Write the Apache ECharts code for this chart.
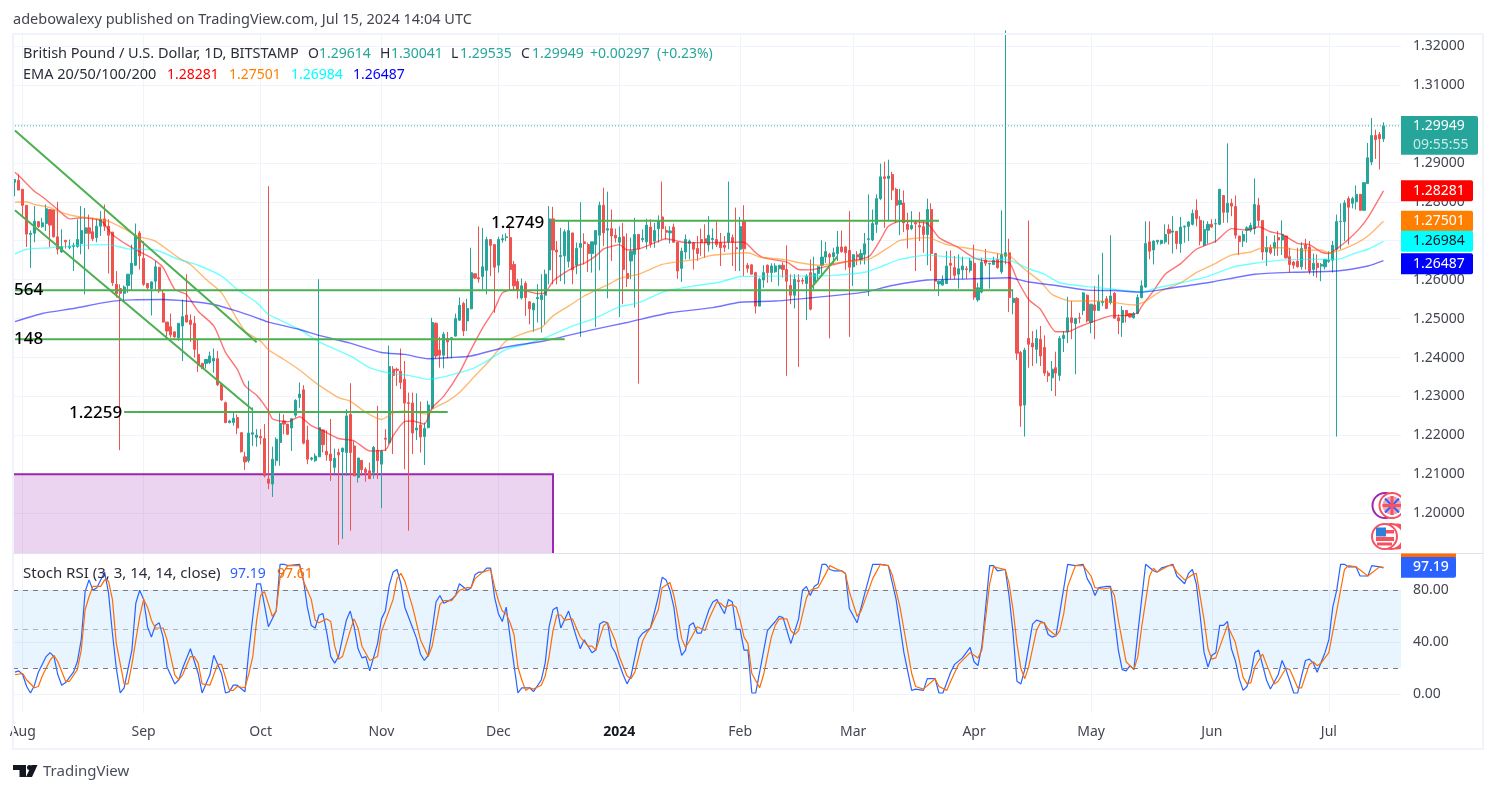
<!DOCTYPE html>
<html><head><meta charset="utf-8">
<script src="https://cdn.jsdelivr.net/npm/echarts@6/dist/echarts.min.js"></script>
<style>html,body{margin:0;padding:0;background:#fff}#c{width:1496px;height:793px}</style>
</head><body><div id="c"></div>
<script>
const FONT='"Noto Sans", Roboto, sans-serif';
// daily candles from 2023-07-30: [open, close, low, high]
const candles=[
[1.2850,1.2857,1.2814,1.2858],[1.2855,1.2830,1.2830,1.2870],[1.2832,1.2791,1.2763,1.2832],[1.2791,1.2717,1.2684,1.2791],[1.2716,1.2719,1.2630,1.2726],[1.2719,1.2750,1.2696,1.2789],[1.2749,1.2736,1.2733,1.2749],[1.2736,1.2746,1.2733,1.2759],[1.2744,1.2782,1.2725,1.2793],[1.2780,1.2740,1.2684,1.2780],
[1.2779,1.2710,1.2708,1.2779],[1.2710,1.2678,1.2665,1.2800],[1.2671,1.2685,1.2669,1.2729],[1.2701,1.2697,1.2680,1.2701],[1.2683,1.2685,1.2678,1.2703],[1.2685,1.2688,1.2622,1.2695],[1.2685,1.2703,1.2682,1.2755],[1.2693,1.2726,1.2665,1.2789],[1.2719,1.2733,1.2562,1.2784],[1.2733,1.2719,1.2678,1.2767],
[1.2723,1.2705,1.2699,1.2759],[1.2708,1.2737,1.2696,1.2755],[1.2737,1.2755,1.2712,1.2776],[1.2756,1.2737,1.2725,1.2793],[1.2737,1.2714,1.2616,1.2755],[1.2722,1.2592,1.2584,1.2722],[1.2588,1.2564,1.2554,1.2622],[1.2577,1.2565,1.2162,1.2588],[1.2565,1.2581,1.2545,1.2585],[1.2585,1.2614,1.2566,1.2614],
[1.2614,1.2642,1.2573,1.2690],[1.2637,1.2713,1.2635,1.2744],[1.2720,1.2661,1.2626,1.2725],[1.2655,1.2588,1.2584,1.2699],[1.2590,1.2579,1.2575,1.2590],[1.2577,1.2594,1.2508,1.2596],[1.2596,1.2633,1.2575,1.2648],[1.2632,1.2571,1.2566,1.2632],[1.2565,1.2491,1.2490,1.2571],[1.2491,1.2468,1.2447,1.2491],
[1.2479,1.2458,1.2451,1.2513],[1.2466,1.2453,1.2451,1.2466],[1.2451,1.2488,1.2443,1.2488],[1.2481,1.2505,1.2391,1.2549],[1.2509,1.2491,1.2490,1.2614],[1.2496,1.2485,1.2440,1.2511],[1.2488,1.2421,1.2400,1.2507],[1.2408,1.2380,1.2363,1.2447],[1.2385,1.2372,1.2370,1.2385],[1.2385,1.2395,1.2372,1.2395],
[1.2387,1.2404,1.2383,1.2415],[1.2391,1.2398,1.2361,1.2423],[1.2397,1.2330,1.2327,1.2417],[1.2331,1.2291,1.2289,1.2331],[1.2284,1.2233,1.2231,1.2287],[1.2233,1.2237,1.2231,1.2240],[1.2233,1.2244,1.2225,1.2259],[1.2246,1.2219,1.2203,1.2254],[1.2207,1.2158,1.2156,1.2207],[1.2145,1.2132,1.2111,1.2158],
[1.2135,1.2206,1.2130,1.2340],[1.2203,1.2207,1.2173,1.2272],[1.2195,1.2201,1.2171,1.2216],[1.2197,1.2194,1.2177,1.2216],[1.2192,1.2096,1.2092,1.2229],[1.2088,1.2077,1.2062,1.2840],[1.2075,1.2139,1.2042,1.2171],[1.2135,1.2190,1.2122,1.2195],[1.2182,1.2231,1.2122,1.2257],[1.2237,1.2229,1.2203,1.2254],
[1.2229,1.2203,1.2201,1.2229],[1.2219,1.2243,1.2160,1.2243],[1.2252,1.2290,1.2246,1.2293],[1.2297,1.2306,1.2271,1.2336],[1.2317,1.2180,1.2177,1.2329],[1.2188,1.2139,1.2126,1.2225],[1.2139,1.2142,1.2135,1.2145],[1.2135,1.2147,1.2132,1.2154],[1.2145,1.2220,1.2145,1.2601],[1.2214,1.2176,1.2156,1.2214],
[1.2159,1.2150,1.2135,1.2213],[1.2152,1.2135,1.2083,1.2242],[1.2118,1.2141,1.2101,1.2166],[1.2156,1.2150,1.1919,1.2166],[1.2158,1.2167,1.1934,1.2169],[1.2156,1.2250,1.2096,1.2267],[1.2254,1.2156,1.1955,1.2334],[1.2173,1.2096,1.2096,1.2186],[1.2092,1.2142,1.2079,1.2142],[1.2136,1.2112,1.2096,1.2136],
[1.2113,1.2105,1.2081,1.2118],[1.2109,1.2089,1.2088,1.2130],[1.2105,1.2169,1.2089,1.2173],[1.2162,1.2135,1.2088,1.2276],[1.2126,1.2160,1.2013,1.2163],[1.2193,1.2190,1.2160,1.2216],[1.2182,1.2377,1.2177,1.2431],[1.2370,1.2354,1.2152,1.2378],[1.2370,1.2367,1.2327,1.2374],[1.2365,1.2336,1.2319,1.2423],
[1.2344,1.2283,1.2113,1.2391],[1.2284,1.2282,1.1955,1.2310],[1.2283,1.2206,1.2152,1.2310],[1.2214,1.2219,1.2188,1.2308],[1.2227,1.2196,1.2156,1.2287],[1.2197,1.2218,1.2124,1.2233],[1.2220,1.2278,1.2218,1.2289],[1.2269,1.2490,1.2267,1.2502],[1.2488,1.2404,1.2397,1.2490],[1.2419,1.2406,1.2374,1.2453],
[1.2406,1.2460,1.2372,1.2466],[1.2449,1.2440,1.2398,1.2466],[1.2449,1.2451,1.2398,1.2451],[1.2455,1.2500,1.2454,1.2513],[1.2496,1.2534,1.2494,1.2554],[1.2539,1.2468,1.2455,1.2543],[1.2494,1.2526,1.2468,1.2551],[1.2525,1.2618,1.2524,1.2682],[1.2615,1.2604,1.2602,1.2615],[1.2605,1.2602,1.2592,1.2737],
[1.2608,1.2633,1.2575,1.2733],[1.2624,1.2703,1.2562,1.2710],[1.2703,1.2688,1.2609,1.2703],[1.2690,1.2632,1.2515,1.2690],[1.2637,1.2703,1.2618,1.2710],[1.2702,1.2705,1.2695,1.2716],[1.2708,1.2710,1.2699,1.2719],[1.2708,1.2626,1.2573,1.2739],[1.2639,1.2584,1.2571,1.2648],[1.2595,1.2575,1.2551,1.2602],
[1.2553,1.2584,1.2549,1.2603],[1.2590,1.2554,1.2507,1.2596],[1.2543,1.2525,1.2485,1.2545],[1.2522,1.2539,1.2466,1.2541],[1.2551,1.2554,1.2490,1.2588],[1.2549,1.2560,1.2464,1.2614],[1.2560,1.2614,1.2485,1.2626],[1.2625,1.2756,1.2588,1.2789],[1.2756,1.2676,1.2588,1.2787],[1.2676,1.2671,1.2588,1.2699],
[1.2659,1.2662,1.2596,1.2733],[1.2661,1.2723,1.2588,1.2729],[1.2647,1.2726,1.2631,1.2750],[1.2720,1.2625,1.2588,1.2720],[1.2637,1.2680,1.2614,1.2695],[1.2683,1.2693,1.2453,1.2799],[1.2697,1.2693,1.2639,1.2719],[1.2690,1.2667,1.2620,1.2695],[1.2667,1.2697,1.2618,1.2697],[1.2690,1.2726,1.2478,1.2726],
[1.2714,1.2791,1.2624,1.2800],[1.2791,1.2720,1.2686,1.2836],[1.2727,1.2731,1.2552,1.2826],[1.2731,1.2712,1.2648,1.2780],[1.2714,1.2707,1.2695,1.2731],[1.2696,1.2708,1.2504,1.2737],[1.2710,1.2626,1.2537,1.2746],[1.2616,1.2603,1.2581,1.2719],[1.2648,1.2673,1.2601,1.2708],[1.2665,1.2716,1.2528,1.2759],
[1.2716,1.2679,1.2333,1.2716],[1.2703,1.2706,1.2696,1.2729],[1.2697,1.2740,1.2678,1.2756],[1.2735,1.2692,1.2682,1.2755],[1.2699,1.2726,1.2682,1.2746],[1.2731,1.2750,1.2695,1.2765],[1.2761,1.2731,1.2703,1.2852],[1.2726,1.2722,1.2703,1.2737],[1.2720,1.2725,1.2693,1.2737],[1.2735,1.2696,1.2695,1.2744],
[1.2696,1.2622,1.2602,1.2696],[1.2629,1.2673,1.2594,1.2682],[1.2671,1.2703,1.2652,1.2716],[1.2693,1.2699,1.2652,1.2703],[1.2695,1.2678,1.2626,1.2697],[1.2680,1.2667,1.2648,1.2712],[1.2703,1.2695,1.2661,1.2731],[1.2705,1.2695,1.2656,1.2742],[1.2689,1.2714,1.2672,1.2763],[1.2703,1.2706,1.2678,1.2731],
[1.2703,1.2690,1.2684,1.2750],[1.2695,1.2682,1.2635,1.2720],[1.2688,1.2683,1.2671,1.2712],[1.2697,1.2720,1.2678,1.2852],[1.2708,1.2696,1.2635,1.2716],[1.2682,1.2679,1.2622,1.2785],[1.2678,1.2736,1.2622,1.2761],[1.2750,1.2679,1.2609,1.2791],[1.2637,1.2629,1.2618,1.2643],[1.2638,1.2614,1.2614,1.2639],
[1.2618,1.2532,1.2513,1.2620],[1.2532,1.2601,1.2532,1.2605],[1.2599,1.2618,1.2579,1.2637],[1.2637,1.2618,1.2592,1.2639],[1.2618,1.2635,1.2594,1.2642],[1.2620,1.2635,1.2618,1.2642],[1.2628,1.2637,1.2584,1.2637],[1.2637,1.2626,1.2605,1.2645],[1.2626,1.2596,1.2353,1.2688],[1.2585,1.2560,1.2537,1.2614],
[1.2560,1.2601,1.2526,1.2614],[1.2598,1.2595,1.2376,1.2614],[1.2598,1.2596,1.2588,1.2605],[1.2590,1.2609,1.2496,1.2614],[1.2618,1.2524,1.2521,1.2652],[1.2594,1.2615,1.2575,1.2659],[1.2616,1.2633,1.2596,1.2635],[1.2637,1.2658,1.2609,1.2701],[1.2658,1.2672,1.2643,1.2697],[1.2665,1.2658,1.2449,1.2669],
[1.2659,1.2669,1.2639,1.2682],[1.2667,1.2684,1.2648,1.2725],[1.2684,1.2672,1.2669,1.2726],[1.2684,1.2669,1.2625,1.2686],[1.2675,1.2632,1.2453,1.2776],[1.2633,1.2664,1.2584,1.2665],[1.2664,1.2658,1.2637,1.2673],[1.2652,1.2667,1.2639,1.2678],[1.2665,1.2692,1.2639,1.2720],[1.2703,1.2705,1.2558,1.2819],
[1.2702,1.2744,1.2699,1.2780],[1.2742,1.2808,1.2720,1.2819],[1.2808,1.2864,1.2804,1.2898],[1.2864,1.2860,1.2733,1.2903],[1.2860,1.2866,1.2750,1.2908],[1.2870,1.2830,1.2804,1.2877],[1.2832,1.2791,1.2746,1.2836],[1.2793,1.2803,1.2714,1.2833],[1.2797,1.2746,1.2722,1.2829],[1.2742,1.2729,1.2680,1.2772],
[1.2731,1.2739,1.2727,1.2776],[1.2746,1.2743,1.2622,1.2753],[1.2739,1.2735,1.2699,1.2774],[1.2736,1.2716,1.2669,1.2750],[1.2716,1.2780,1.2637,1.2808],[1.2780,1.2667,1.2622,1.2796],[1.2667,1.2596,1.2571,1.2667],[1.2589,1.2596,1.2558,1.2597],[1.2586,1.2599,1.2585,1.2611],[1.2590,1.2635,1.2590,1.2673],
[1.2642,1.2637,1.2601,1.2675],[1.2631,1.2611,1.2601,1.2661],[1.2614,1.2628,1.2577,1.2665],[1.2625,1.2635,1.2601,1.2659],[1.2628,1.2626,1.2602,1.2635],[1.2624,1.2648,1.2618,1.2656],[1.2642,1.2555,1.2548,1.2690],[1.2548,1.2579,1.2543,1.2592],[1.2568,1.2645,1.2565,1.2656],[1.2650,1.2642,1.2635,1.2679],
[1.2640,1.2642,1.2577,1.2643],[1.2639,1.2649,1.2639,1.2659],[1.2652,1.2631,1.2628,1.2667],[1.2620,1.2664,1.2615,1.2778],[1.2660,1.2669,1.2639,1.3240],[1.2669,1.2554,1.2517,1.2705],[1.2541,1.2552,1.2511,1.2575],[1.2552,1.2411,1.2394,1.2555],[1.2413,1.2276,1.2222,1.2417],[1.2278,1.2419,1.2197,1.2425],
[1.2449,1.2434,1.2374,1.2752],[1.2437,1.2427,1.2378,1.2468],[1.2421,1.2449,1.2385,1.2472],[1.2447,1.2404,1.2378,1.2481],[1.2426,1.2360,1.2353,1.2457],[1.2360,1.2353,1.2337,1.2366],[1.2348,1.2370,1.2314,1.2391],[1.2374,1.2360,1.2301,1.2415],[1.2354,1.2449,1.2340,1.2455],[1.2449,1.2457,1.2414,1.2468],
[1.2466,1.2502,1.2437,1.2556],[1.2502,1.2490,1.2447,1.2545],[1.2487,1.2500,1.2357,1.2502],[1.2502,1.2501,1.2488,1.2515],[1.2521,1.2566,1.2509,1.2568],[1.2560,1.2494,1.2490,1.2562],[1.2490,1.2537,1.2462,1.2537],[1.2535,1.2521,1.2447,1.2584],[1.2521,1.2543,1.2521,1.2613],[1.2541,1.2544,1.2532,1.2669],
[1.2551,1.2526,1.2524,1.2558],[1.2541,1.2558,1.2536,1.2714],[1.2565,1.2501,1.2500,1.2568],[1.2502,1.2494,1.2460,1.2511],[1.2490,1.2521,1.2453,1.2532],[1.2521,1.2507,1.2490,1.2521],[1.2513,1.2504,1.2502,1.2513],[1.2502,1.2513,1.2500,1.2517],[1.2513,1.2554,1.2511,1.2562],[1.2554,1.2584,1.2552,1.2598],
[1.2581,1.2693,1.2579,1.2750],[1.2697,1.2673,1.2652,1.2750],[1.2676,1.2699,1.2639,1.2701],[1.2697,1.2701,1.2690,1.2701],[1.2693,1.2701,1.2690,1.2702],[1.2697,1.2716,1.2692,1.2742],[1.2729,1.2719,1.2690,1.2742],[1.2722,1.2725,1.2667,1.2763],[1.2724,1.2693,1.2678,1.2725],[1.2692,1.2735,1.2669,1.2761],
[1.2735,1.2737,1.2695,1.2739],[1.2737,1.2748,1.2699,1.2750],[1.2742,1.2770,1.2739,1.2780],[1.2778,1.2757,1.2737,1.2806],[1.2752,1.2699,1.2688,1.2763],[1.2689,1.2729,1.2686,1.2752],[1.2727,1.2742,1.2692,1.2750],[1.2742,1.2735,1.2733,1.2755],[1.2743,1.2744,1.2695,1.2756],[1.2742,1.2832,1.2740,1.2833],
[1.2816,1.2773,1.2746,1.2816],[1.2773,1.2796,1.2746,1.2950],[1.2796,1.2789,1.2763,1.2808],[1.2788,1.2714,1.2705,1.2816],[1.2712,1.2698,1.2663,1.2712],[1.2699,1.2716,1.2684,1.2725],[1.2727,1.2733,1.2695,1.2737],[1.2727,1.2739,1.2722,1.2746],[1.2731,1.2793,1.2716,1.2860],[1.2791,1.2752,1.2737,1.2810],
[1.2752,1.2671,1.2650,1.2752],[1.2671,1.2682,1.2635,1.2712],[1.2682,1.2669,1.2665,1.2690],[1.2681,1.2695,1.2661,1.2714],[1.2708,1.2702,1.2661,1.2725],[1.2702,1.2716,1.2663,1.2752],[1.2712,1.2656,1.2654,1.2712],[1.2659,1.2639,1.2618,1.2682],[1.2645,1.2637,1.2628,1.2648],[1.2647,1.2633,1.2631,1.2682],
[1.2633,1.2680,1.2626,1.2696],[1.2689,1.2679,1.2626,1.2705],[1.2684,1.2622,1.2614,1.2699],[1.2626,1.2642,1.2609,1.2667],[1.2642,1.2631,1.2605,1.2665],[1.2635,1.2639,1.2596,1.2643],[1.2633,1.2652,1.2626,1.2652],[1.2647,1.2650,1.2643,1.2673],[1.2650,1.2688,1.2618,1.2699],[1.2678,1.2749,1.2197,1.2767],
[1.2749,1.2750,1.2678,1.2796],[1.2749,1.2797,1.2699,1.2804],[1.2808,1.2786,1.2690,1.2814],[1.2796,1.2808,1.2783,1.2813],[1.2800,1.2819,1.2780,1.2842],[1.2819,1.2778,1.2778,1.2820],[1.2778,1.2849,1.2778,1.2849],[1.2847,1.2913,1.2847,1.2951],[1.2902,1.2970,1.2894,1.3015],[1.2970,1.2960,1.2910,1.2985],
[1.2973,1.2962,1.2883,1.2979],[1.29614,1.29949,1.29535,1.30041]];

// EMA readings as [day index, price]
const ema20=[[0,1.2876],[1,1.2867],[5,1.2827],[7,1.2813],[11,1.2780],[14,1.2756],[17,1.2759],[22,1.2752],[25,1.2716],[30,1.2682],[35,1.2656],[38,1.2631],[41,1.2575],[44,1.2562],[47,1.2519],[51,1.2481],[54,1.2413],[57,1.2370],[59,1.2327],[62,1.2303],[65,1.2263],[66,1.2243],[68,1.2237],[70,1.2235],[73,1.2248],[76,1.2225],[79,1.2212],[83,1.2192],[87,1.2186],[91,1.2160],[95,1.2162],[97,1.2199],[100,1.2236],[102,1.2237],[105,1.2229],[107,1.2271],[110,1.2301],[114,1.2361],[117,1.2421],[120,1.2477],[123,1.2524],[125,1.2566],[128,1.2575],[131,1.2571],[134,1.2564],[136,1.2566],[138,1.2596],[141,1.2618],[144,1.2635],[146,1.2642],[149,1.2661],[151,1.2679],[154,1.2688],[155,1.2690],[157,1.2676],[160,1.2679],[163,1.2690],[167,1.2705],[170,1.2699],[172,1.2695],[177,1.2695],[184,1.2696],[187,1.2696],[190,1.2669],[192,1.2656],[198,1.2645],[201,1.2626],[204,1.2625],[207,1.2631],[213,1.2646],[219,1.2659],[222,1.2703],[224,1.2737],[227,1.2750],[234,1.2744],[237,1.2708],[242,1.2682],[246,1.2656],[249,1.2648],[255,1.2643],[257,1.2601],[260,1.2549],[263,1.2524],[267,1.2466],[270,1.2466],[273,1.2479],[277,1.2494],[281,1.2507],[285,1.2508],[288,1.2515],[289,1.2532],[292,1.2571],[295,1.2614],[299,1.2641],[303,1.2678],[308,1.2699],[312,1.2731],[316,1.2727],[319,1.2736],[322,1.2723],[325,1.2716],[329,1.2693],[332,1.2690],[335,1.2671],[337,1.2667],[339,1.2679],[342,1.2703],[345,1.2733],[347,1.2759],[351,1.28281]];
const ema50=[[0,1.2799],[3,1.2800],[5,1.2793],[9,1.2785],[12,1.2772],[16,1.2762],[22,1.2755],[25,1.2746],[29,1.2725],[32,1.2710],[36,1.2699],[42,1.2656],[45,1.2639],[49,1.2601],[53,1.2566],[56,1.2515],[59,1.2468],[63,1.2442],[65,1.2420],[69,1.2395],[73,1.2368],[76,1.2344],[78,1.2329],[83,1.2297],[86,1.2288],[90,1.2259],[94,1.2241],[97,1.2257],[100,1.2263],[106,1.2254],[107,1.2267],[111,1.2288],[114,1.2310],[118,1.2353],[122,1.2395],[126,1.2443],[131,1.2464],[135,1.2477],[138,1.2507],[142,1.2532],[146,1.2558],[153,1.2592],[155,1.2603],[160,1.2614],[166,1.2639],[170,1.2646],[175,1.2652],[178,1.2661],[184,1.2667],[188,1.2669],[191,1.2658],[197,1.2652],[202,1.2642],[206,1.2637],[212,1.2645],[219,1.2652],[224,1.2682],[227,1.2701],[234,1.2708],[239,1.2690],[246,1.2678],[252,1.2667],[255,1.2662],[259,1.2626],[263,1.2596],[266,1.2562],[271,1.2545],[278,1.2545],[282,1.2541],[287,1.2535],[290,1.2545],[294,1.2571],[299,1.2592],[303,1.2618],[307,1.2637],[312,1.2663],[317,1.2671],[320,1.2682],[325,1.2682],[330,1.2675],[335,1.2676],[337,1.2669],[340,1.2676],[344,1.2693],[347,1.2712],[351,1.27501]];
const ema100=[[0,1.2666],[3,1.2678],[9,1.2682],[16,1.2688],[24,1.2690],[29,1.2679],[36,1.2676],[42,1.2652],[47,1.2637],[53,1.2609],[57,1.2575],[62,1.2541],[65,1.2511],[68,1.2496],[73,1.2472],[78,1.2440],[86,1.2404],[91,1.2374],[96,1.2360],[101,1.2354],[106,1.2344],[111,1.2353],[117,1.2370],[121,1.2391],[126,1.2421],[131,1.2434],[136,1.2451],[142,1.2477],[149,1.2502],[155,1.2530],[160,1.2541],[167,1.2571],[175,1.2585],[181,1.2594],[186,1.2608],[193,1.2609],[201,1.2609],[206,1.2610],[210,1.2611],[218,1.2619],[222,1.2633],[227,1.2652],[234,1.2663],[242,1.2656],[249,1.2654],[255,1.2650],[260,1.2628],[264,1.2614],[268,1.2592],[275,1.2582],[278,1.2579],[284,1.2573],[289,1.2568],[293,1.2579],[299,1.2592],[305,1.2605],[312,1.2631],[318,1.2642],[325,1.2650],[333,1.2652],[339,1.2652],[344,1.2669],[347,1.2678],[351,1.26984]];
const ema200=[[0,1.2492],[7,1.2513],[15,1.2526],[24,1.2543],[30,1.2548],[38,1.2549],[44,1.2545],[51,1.2536],[57,1.2519],[62,1.2502],[65,1.2491],[73,1.2472],[78,1.2457],[86,1.2437],[94,1.2413],[100,1.2408],[106,1.2397],[112,1.2400],[117,1.2404],[126,1.2427],[136,1.2443],[148,1.2471],[157,1.2490],[168,1.2515],[179,1.2528],[186,1.2542],[195,1.2545],[206,1.2555],[218,1.2568],[225,1.2585],[234,1.2599],[245,1.2602],[255,1.2605],[260,1.2594],[267,1.2585],[275,1.2573],[282,1.2572],[289,1.2568],[297,1.2579],[307,1.2594],[318,1.2614],[328,1.2619],[339,1.2622],[347,1.2635],[351,1.26487]];

// Stoch RSI readings as [day index, value]
const stochK=[[0,17],[1,18],[2,15],[3,6],[4,1],[5,7],[6,17],[8,29],[9,32],[10,29],[11,15],[12,7],[13,9],[15,17],[16,25],[17,42],[18,79],[19,88],[20,80],[21,82],[23,94],[24,78],[25,47],[26,20],[27,1],[28,5],[30,34],[31,70],[32,80],[33,73],[34,52],[35,44],[36,53],[37,55],[38,44],[39,21],[41,8],[42,11],[43,20],[45,35],[47,16],[48,1],[50,15],[51,30],[53,16],[54,1],[55,2],[56,7],[57,7],[59,2],[60,34],[62,85],[63,85],[65,52],[67,64],[68,100],[69,100],[70,99],[73,100],[74,88],[75,67],[76,53],[77,51],[78,61],[79,62],[80,47],[81,29],[82,24],[83,29],[85,57],[86,64],[87,52],[88,35],[89,28],[90,29],[91,18],[93,39],[94,58],[95,64],[96,84],[97,94],[98,96],[99,85],[100,67],[102,51],[103,43],[104,31],[105,26],[106,30],[107,49],[108,71],[109,76],[110,70],[112,73],[113,76],[114,85],[116,80],[117,82],[118,92],[119,94],[120,94],[121,97],[122,97],[123,75],[124,62],[125,56],[126,67],[127,44],[129,1],[130,5],[132,5],[133,2],[135,11],[136,24],[137,52],[138,65],[139,67],[140,51],[142,64],[144,44],[145,35],[146,42],[148,32],[149,34],[150,54],[151,56],[152,55],[153,37],[154,32],[156,15],[157,8],[158,14],[160,43],[161,47],[163,51],[165,75],[166,90],[167,88],[168,80],[169,67],[170,43],[171,30],[172,34],[173,53],[174,55],[175,47],[176,47],[178,65],[179,71],[180,73],[182,62],[183,73],[184,71],[185,50],[186,50],[187,34],[188,34],[189,1],[190,1],[193,49],[195,56],[196,60],[197,59],[199,39],[201,58],[202,80],[203,83],[204,76],[205,83],[206,85],[207,100],[208,100],[209,96],[210,95],[212,95],[213,93],[214,66],[216,55],[218,78],[220,100],[222,100],[224,99],[226,73],[228,32],[230,3],[231,4],[233,3],[234,12],[236,12],[237,1],[238,1],[240,17],[241,23],[243,28],[245,36],[246,25],[247,22],[248,37],[250,99],[251,99],[252,95],[254,96],[255,75],[256,47],[257,10],[258,8],[259,19],[261,54],[262,57],[264,55],[265,46],[266,44],[267,45],[270,100],[272,99],[274,100],[275,89],[276,84],[277,76],[278,82],[280,83],[281,83],[283,34],[284,19],[285,18],[286,22],[287,19],[288,47],[290,100],[292,95],[293,94],[294,97],[297,100],[298,91],[300,85],[301,93],[302,96],[303,85],[304,60],[305,32],[306,21],[307,30],[308,32],[309,53],[310,53],[311,56],[312,35],[313,26],[314,12],[315,3],[316,6],[317,16],[318,32],[319,34],[321,11],[322,4],[324,15],[325,26],[326,19],[328,1],[329,1],[330,14],[331,26],[332,27],[333,24],[334,17],[336,32],[337,42],[338,67],[339,80],[340,100],[341,100],[342,98],[344,98],[345,91],[347,91],[348,99],[350,98],[351,97.19]];
const stochD=[[0,15],[2,16],[3,11],[5,5],[6,6],[7,14],[9,26],[10,30],[11,25],[13,10],[14,10],[16,19],[17,34],[18,65],[19,75],[20,83],[22,83],[23,88],[24,87],[25,73],[26,39],[28,8],[29,8],[30,23],[32,60],[33,73],[34,67],[35,57],[36,51],[38,51],[39,42],[41,15],[42,11],[43,15],[45,29],[46,29],[47,24],[48,8],[50,7],[52,23],[53,23],[55,3],[56,3],[57,6],[59,5],[60,16],[61,29],[62,57],[63,76],[64,79],[66,60],[67,64],[68,90],[70,99],[73,99],[74,87],[76,73],[77,57],[78,55],[80,58],[81,56],[82,37],[83,27],[84,29],[86,49],[87,58],[88,51],[89,37],[91,26],[93,29],[94,48],[97,73],[98,89],[99,93],[100,87],[102,67],[104,42],[106,29],[107,37],[109,69],[110,72],[112,72],[114,80],[116,82],[117,82],[118,89],[120,94],[122,96],[123,83],[124,72],[125,64],[126,62],[127,55],[128,46],[129,21],[130,11],[131,3],[132,5],[133,4],[135,7],[136,14],[137,29],[138,49],[139,61],[140,61],[141,57],[143,58],[144,51],[145,44],[147,37],[148,37],[149,34],[151,53],[152,55],[154,41],[155,29],[157,14],[158,12],[159,17],[161,41],[162,47],[163,51],[165,65],[166,82],[168,86],[169,76],[170,60],[171,43],[172,36],[173,41],[175,52],[177,49],[178,58],[180,71],[181,70],[182,67],[184,69],[185,67],[186,57],[187,44],[188,39],[189,16],[191,5],[192,15],[194,44],[195,53],[196,58],[198,58],[199,49],[200,46],[201,49],[203,74],[204,80],[206,82],[208,93],[209,99],[211,96],[212,95],[213,93],[214,79],[216,60],[217,64],[220,89],[222,100],[224,99],[225,92],[227,67],[230,16],[231,6],[233,4],[236,12],[237,6],[239,3],[240,10],[242,23],[245,32],[246,30],[247,28],[248,34],[250,85],[251,98],[254,96],[255,85],[256,65],[257,39],[258,20],[259,12],[260,21],[262,49],[263,55],[264,55],[265,50],[267,45],[268,49],[269,62],[270,83],[272,99],[274,99],[276,91],[277,82],[279,81],[281,82],[282,76],[283,57],[285,25],[287,19],[288,29],[289,52],[291,91],[292,97],[293,94],[296,99],[297,99],[298,94],[300,88],[302,92],[303,93],[305,57],[306,35],[307,27],[308,28],[311,53],[313,40],[315,13],[316,8],[317,9],[318,21],[320,31],[321,23],[323,8],[324,10],[326,20],[327,19],[329,5],[330,5],[332,23],[333,25],[334,22],[335,24],[337,32],[339,64],[341,96],[342,99],[344,98],[347,91],[350,98],[351,97.61]];

// drawings, as [day index, price]
const trendLines=[
 [[0,1.2983],[62,1.2439]],
 [[0,1.2778],[61,1.2265]],
 [[204,1.2576],[211,1.2660]],
 [[0,1.2573],[256,1.2573]],
 [[0,1.2447],[141,1.2447]],
 [[28,1.2260],[111,1.2260]],
 [[138,1.2751],[237,1.2751]]
];
const priceTicks=[1.20,1.21,1.22,1.23,1.24,1.25,1.26,1.27,1.28,1.29,1.30,1.31,1.32];
const stochTicks=[0,40,80];
const lastClose=1.29949;
const demandZone={endDay:138,top:1.21};
const startDay='2023-07-30', slotCount=356;
const monthNames=['Jan','Feb','Mar','Apr','May','Jun','Jul','Aug','Sep','Oct','Nov','Dec'];
const days=[];
for(let i=0;i<slotCount;i++){days.push(new Date(Date.parse(startDay+'T00:00:00Z')+i*864e5).toISOString().slice(0,10));}
const isMonthStart=(i,v)=>v.slice(8)==='01';

const chart=echarts.init(document.getElementById('c'),null,{renderer:'canvas'});
const GRID='#f0f3fa';
const lineOf=(data,color,z,extra)=>Object.assign({type:'line',data,showSymbol:false,symbol:'none',silent:true,z,lineStyle:{color,width:1.4,opacity:.55},smooth:.2},extra||{});
const series=[
 {type:'custom',xAxisIndex:0,yAxisIndex:0,z:1,silent:true,data:[[demandZone.endDay,demandZone.top]],
  renderItem(p,api){const c=p.coordSys;const a=api.coord([api.value(0),api.value(1)]);
   return {type:'group',children:[
    {type:'rect',shape:{x:c.x,y:a[1],width:a[0]-c.x,height:c.y+c.height-a[1]},style:{fill:'rgba(156,39,176,0.2)'}},
    {type:'polyline',shape:{points:[[c.x,a[1]],[a[0],a[1]],[a[0],c.y+c.height]]},style:{stroke:'#9c27b0',lineWidth:2,fill:null}}]};}},
 {type:'candlestick',xAxisIndex:0,yAxisIndex:0,data:candles,barWidth:2.6,z:3,silent:true,
  itemStyle:{color:'#26a69a',color0:'#ef5350',borderColor:'#26a69a',borderColor0:'#ef5350',borderWidth:1}},
 lineOf(ema20,'#ff0000',4),lineOf(ema50,'#ff8000',4),lineOf(ema100,'#00ffff',4),lineOf(ema200,'#0000ff',4),
 ...trendLines.map(d=>({type:'line',data:d,showSymbol:false,symbol:'none',silent:true,z:5,lineStyle:{color:'#4caf50',width:2}})),
 {type:'line',data:[[0,lastClose],[slotCount-1,lastClose]],showSymbol:false,symbol:'none',silent:true,z:5,lineStyle:{color:'#26a69a',width:1,type:[1,2]}},
 {type:'line',xAxisIndex:1,yAxisIndex:1,data:stochK,showSymbol:false,symbol:'none',silent:true,z:4,lineStyle:{color:'#2962ff',width:1.2},
  markArea:{silent:true,itemStyle:{color:'rgba(33,150,243,0.1)'},data:[[{yAxis:20},{yAxis:80}]]},
  markLine:{silent:true,symbol:'none',label:{show:false},data:[
   {yAxis:80,lineStyle:{color:'#787b86',type:[5,5],width:1,opacity:1}},
   {yAxis:50,lineStyle:{color:'rgba(120,123,134,.55)',type:[5,5],width:1,opacity:1}},
   {yAxis:20,lineStyle:{color:'#787b86',type:[5,5],width:1,opacity:1}}]}},
 {type:'line',xAxisIndex:1,yAxisIndex:1,data:stochD,showSymbol:false,symbol:'none',silent:true,z:4,lineStyle:{color:'#ff6d00',width:1.2}}
];
const vGrid={show:true,interval:isMonthStart,alignWithLabel:true,lineStyle:{color:GRID,width:1}};
chart.setOption({
 animation:false,backgroundColor:'#fff',
 grid:[{left:13,right:95,top:34,height:519},{left:13,right:95,top:553.5,height:159.5}],
 xAxis:[
  {type:'category',gridIndex:0,data:days,boundaryGap:true,axisLine:{show:false},axisTick:{show:false},axisLabel:{show:false},splitLine:vGrid},
  {type:'category',gridIndex:1,data:days,boundaryGap:true,axisLine:{show:false},axisTick:{show:false},splitLine:vGrid,
   axisLabel:{interval:isMonthStart,margin:12,color:'#434651',fontFamily:FONT,fontSize:14,hideOverlap:false,
    formatter:v=>v.slice(5)==='01-01'?'{b|'+v.slice(0,4)+'}':monthNames[+v.slice(5,7)-1],
    rich:{b:{fontWeight:'bold',color:'#131722',fontFamily:FONT,fontSize:14}}}}
 ],
 yAxis:[
  {type:'value',gridIndex:0,position:'right',min:1.1898,max:1.32308,axisLine:{show:false},axisTick:{show:false,customValues:priceTicks},
   splitLine:{show:true,lineStyle:{color:GRID,width:1}},
   axisLabel:{customValues:priceTicks,margin:12,padding:[10,0,0,0],color:'#434651',fontFamily:FONT,fontSize:14,formatter:v=>v.toFixed(5)}},
  {type:'value',gridIndex:1,position:'right',min:-14.4,max:108.3,axisLine:{show:false},axisTick:{show:false,customValues:stochTicks},
   splitLine:{show:true,lineStyle:{color:GRID,width:1}},
   axisLabel:{customValues:stochTicks,margin:12,padding:[3,0,0,0],color:'#434651',fontFamily:FONT,fontSize:14,formatter:v=>v.toFixed(2)}}
 ],
 series
});

const py=v=>chart.convertToPixel({yAxisIndex:0},v);
const txt=(text,x,y,fill,size,weight)=>({type:'text',z:20,style:{text,x,y,fill,font:(weight?weight+' ':'')+(size||14)+'px '+FONT,verticalAlign:'middle',align:'left'}});
const rect=(x,y,w,h,fill,r)=>({type:'rect',z:19,shape:{x,y,width:w,height:h,r:r||0},style:{fill}});
const DARK='#2a2e39',TEAL='#26a69a';
const tag=(value,fill,tc,dy)=>{const c=py(value)+(dy||0);return [rect(1401,c-10.5,72,21,fill,[0,2,2,0]),txt(value.toFixed(5),1413,c,tc)];};
const els=[
 {type:'rect',z:18,shape:{x:13,y:34,width:1470,height:715},style:{fill:null,stroke:'#f0f3fa',lineWidth:2}},
 {type:'line',z:18,shape:{x1:13,y1:553.5,x2:1483,y2:553.5},style:{stroke:'#e0e3eb',lineWidth:1}},
 txt('adebowalexy published on TradingView.com, Jul 15, 2024 14:04 UTC',13,20,'#434651',14.5),
 txt('British Pound / U.S. Dollar, 1D, BITSTAMP',23,54,DARK,14.5),
 txt('O',308,54,DARK),txt('1.29614',319,54,TEAL),
 txt('H',380,54,DARK),txt('1.30041',391,54,TEAL),
 txt('L',451,54,DARK),txt('1.29535',460,54,TEAL),
 txt('C',521,54,DARK),txt('1.29949',532,54,TEAL),
 txt('+0.00297',590,54,TEAL),txt('(+0.23%)',657,54,TEAL),
 txt('EMA 20/50/100/200',23,75,DARK,14.5),
 txt('1.28281',167,75,'#ff0000'),txt('1.27501',229,75,'#ff8000'),txt('1.26984',291,75,'#00ffff'),txt('1.26487',353,75,'#0000ff'),
 txt('Stoch RSI (3, 3, 14, 14, close)',23,574,DARK,15),txt('97.19',230,574,'#2962ff'),txt('97.61',277,574,'#ff6d00'),
 txt('1.2749',491,py(1.2751)+2,'#000',17,500),
 txt('1.2259',69,py(1.2260)+1,'#000',17,500),
 txt('564',14,py(1.2573),'#000',17,500),
 txt('148',14,py(1.2447),'#000',17,500),
 {type:'circle',z:8,shape:{cx:1385,cy:505.5,r:12.5},style:{fill:'#fff',stroke:'#9c27b0',lineWidth:2}},
 {type:'circle',z:9,shape:{cx:1392,cy:505.5,r:12.5},style:{fill:'#fff',stroke:'#f7525f',lineWidth:2}},
 {type:'circle',z:10,shape:{cx:1392,cy:505.5,r:9.5},style:{fill:'#e8a7b4'}},
 {type:'line',z:11,shape:{x1:1385,y1:498.5,x2:1399,y2:512.5},style:{stroke:'#2962ff',lineWidth:2}},
 {type:'line',z:11,shape:{x1:1399,y1:498.5,x2:1385,y2:512.5},style:{stroke:'#2962ff',lineWidth:2}},
 {type:'line',z:11,shape:{x1:1392,y1:496,x2:1392,y2:515},style:{stroke:'#f7525f',lineWidth:3}},
 {type:'line',z:11,shape:{x1:1382.5,y1:505.5,x2:1401.5,y2:505.5},style:{stroke:'#f7525f',lineWidth:3}},
 {type:'circle',z:8,shape:{cx:1397,cy:536.5,r:13},style:{fill:'#f7525f'}},
 {type:'circle',z:8,shape:{cx:1391,cy:536.5,r:12.5},style:{fill:'#fff',stroke:'#f7525f',lineWidth:2}},
 {type:'circle',z:9,shape:{cx:1384.5,cy:536.5,r:12.5},style:{fill:'#fff',stroke:'#f7525f',lineWidth:2}},
 {type:'rect',z:10,shape:{x:1376,y:530,width:18,height:3.5},style:{fill:'#f7525f'}},
 {type:'rect',z:10,shape:{x:1376,y:537,width:18,height:4},style:{fill:'#f7525f'}},
 {type:'rect',z:10,shape:{x:1377,y:542.5,width:15,height:3},style:{fill:'#f7525f'}},
 {type:'rect',z:11,shape:{x:1376,y:527.5,width:10,height:9},style:{fill:'#2f7fd6'}},
 {type:'rect',z:12,shape:{x:1401,y:490,width:11,height:63},style:{fill:'#fff'}},
 rect(1401,116,77,38.7,TEAL,[0,2,2,0]),
 txt('1.29949',1413,126.5,'#fff'),txt('09:55:55',1413,145,'rgba(255,255,255,.75)'),
 ...tag(1.28281,'#ff0000','#fff'),...tag(1.27501,'#ff8000','#fff'),...tag(1.26984,'#00ffff','#131722'),...tag(1.26487,'#0000ff','#fff',3),
 rect(1401,553.5,55,5,'#ff6d00'),rect(1401,557,55,20.7,'#2962ff',[0,2,2,0]),
 txt('97.19',1413,567.5,'#fff',14,500),
 {type:'polygon',z:20,shape:{points:[[13,765],[26,765],[26,777],[19.5,777],[19.5,770],[13,770]]},style:{fill:'#131722'}},
 {type:'circle',z:20,shape:{cx:29.5,cy:767.5,r:2.5},style:{fill:'#131722'}},
 {type:'polygon',z:20,shape:{points:[[31.5,765],[37.5,765],[32,777],[26,777]]},style:{fill:'#131722'}},
 txt('TradingView',43,771.5,'#4a4e5a',15)
];
chart.setOption({graphic:{elements:els}});
</script></body></html>
